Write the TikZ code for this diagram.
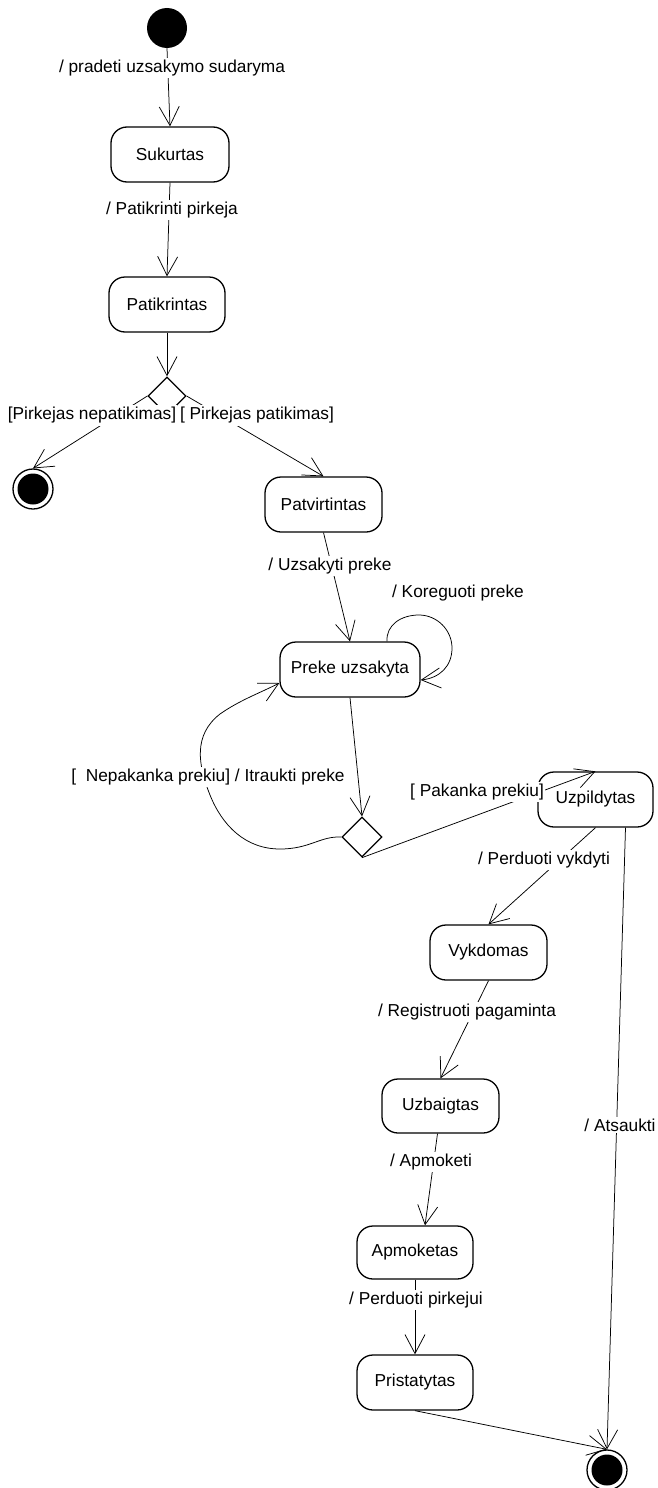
\documentclass[tikz,border=0pt]{standalone}
\usepackage{fontspec}
\setmainfont{Liberation Sans}
\usetikzlibrary{arrows.meta,shapes.geometric}
\begin{document}
\begin{tikzpicture}[x=1pt,y=-1pt,
  font=\fontsize{17.3}{20}\selectfont,
  state/.style={draw, line width=1.3pt, rounded corners=16pt, inner sep=0pt,
    minimum height=55pt},
  startstate/.style={circle, fill=black, inner sep=0pt, minimum size=40pt},
  endstate/.style={circle, draw, line width=1.3pt, inner sep=0pt, minimum size=40pt,
    path picture={\fill (path picture bounding box.center) circle (15.5pt);}},
  choice/.style={diamond, draw, line width=1.3pt, inner sep=0pt, aspect=1},
  trans/.style={line width=0.75pt, -{Straight Barb[length=19pt,width=20pt]}},
  lbl/.style={fill=white, inner xsep=1pt, inner ysep=2pt}]
\useasboundingbox (0,0) rectangle (658,1488);
\fill[white] (0,0) rectangle (658,1488);

% states
\node[startstate] (init) at (167,28) {};
\node[state, minimum width=118pt] (suk) at (170,154.5) {Sukurtas};
\node[state, minimum width=116pt] (pat) at (167,304.5) {Patikrintas};
\node[choice, minimum width=38pt, minimum height=38pt] (d1) at (167,396) {};
\node[endstate] (fin1) at (33,489) {};
\node[state, minimum width=117pt] (patv) at (323.5,504.5) {Patvirtintas};
\node[state, minimum width=140pt] (preke) at (350,669.5) {Preke uzsakyta};
\node[choice, minimum width=40pt, minimum height=40pt] (d2) at (362,837) {};
\node[state, minimum width=115pt] (uzp) at (595.5,799.5) {Uzpildytas};
\node[state, minimum width=117pt] (vyk) at (488.5,952.5) {Vykdomas};
\node[state, minimum width=117pt, minimum height=54pt] (uzb) at (440.5,1106) {Uzbaigtas};
\node[state, minimum width=116pt, minimum height=53pt] (apm) at (415,1252.5) {Apmoketas};
\node[state, minimum width=116pt] (pri) at (415,1382.5) {Pristatytas};
\node[endstate] (fin2) at (607,1470) {};

% transitions
\draw[trans] (init.south) -- (suk.north);
\draw[trans] (suk.south) -- (pat.north);
\draw[trans] (pat.south) -- (d1.north);
\draw[trans] (d1.west) -- (fin1.north);
\draw[trans] (d1.east) -- (patv.north);
\draw[trans] (patv.south) -- (preke.north);
\draw[trans] ([xshift=37pt]preke.north)
  .. controls (386,625) and (401,615) .. (419,615)
  .. controls (437,615) and (452,630) .. (452,648)
  .. controls (452,666) and (440,678) .. ([yshift=-10.5pt]preke.east);
\draw[trans] (preke.south) -- (d2.north);
\draw[trans] (d2.west)
  .. controls (320,836) and (310,849) .. (280,849)
  .. controls (245,849) and (222,825) .. (210,795)
  .. controls (198,765) and (193,735) .. (220,714)
  .. controls (240,700) and (260,693) .. ([yshift=-13.5pt]preke.west);
\draw[trans] (d2.south) -- (uzp.north);
\draw[trans] (uzp.south) -- (vyk.north);
\draw[trans] (vyk.south) -- (uzb.north);
\draw[trans] ([xshift=-3pt]uzb.south) -- ([xshift=10pt]apm.north);
\draw[trans] (apm.south) -- (pri.north);
\draw[trans] (pri.south) -- (fin2.north);
\draw[trans] ([xshift=30pt]uzp.south) -- (fin2.north);

% transition labels
\node[lbl] (l1) at (172,68) {/ pradeti uzsakymo sudaryma};
\node[lbl] (l2) at (172,210) {/ Patikrinti pirkeja};
\node[lbl] (l3) at (92,415.5) {[Pirkejas nepatikimas]};
\node[lbl] (l4) at (257,415.5) {[ Pirkejas patikimas]};
\node[lbl] (l5) at (330,566) {/ Uzsakyti preke};
\node[lbl] (l6) at (458,593) {/ Koreguoti preke};
\node[lbl] (l7) at (208,777) {[\ \ Nepakanka prekiu] / Itraukti preke};
\node[lbl] (l8) at (477,792) {[ Pakanka prekiu]};
\node[lbl] (l9) at (544,860) {/ Perduoti vykdyti};
\node[lbl] (l10) at (467,1012) {/ Registruoti pagaminta};
\node[lbl] (l11) at (431,1162) {/ Apmoketi};
\node[lbl] (l12) at (416,1300) {/ Perduoti pirkejui};
\node[lbl] (l13) at (620,1125) {/ Atsaukti};
\end{tikzpicture}
\end{document}
